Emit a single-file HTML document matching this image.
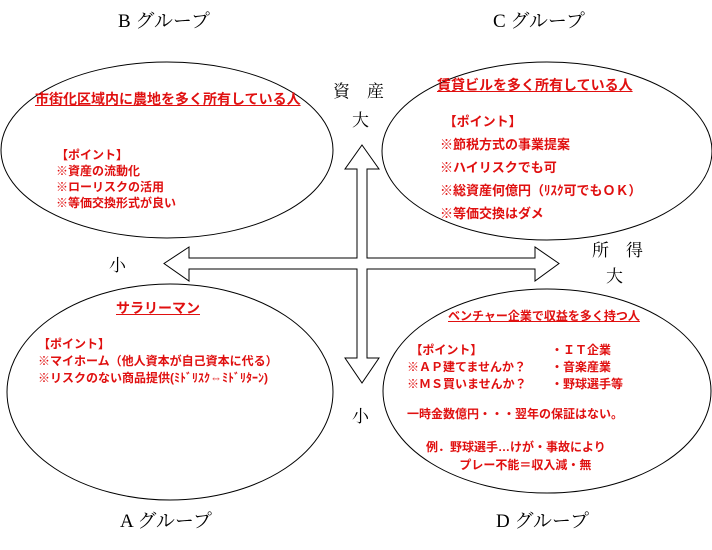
<!DOCTYPE html>
<html><head><meta charset="utf-8"><style>
body{margin:0;width:712px;height:550px;background:#fff;position:relative;overflow:hidden;font-family:"Liberation Serif","Noto Serif CJK SC","Noto Sans CJK JP",serif;}
.t{position:absolute;white-space:nowrap;}
.k{color:#000;font-size:17px;}
.g{font-size:19px;}
.r{color:#e01010;font-weight:bold;font-size:12px;font-family:"Liberation Sans","Noto Sans CJK JP",sans-serif;}
.u{text-decoration:underline;font-size:14px;}
</style></head><body>
<svg width="712" height="550" style="position:absolute;left:0;top:0">
<g fill="none" stroke="#000" stroke-width="1">
<ellipse cx="167" cy="150" rx="166" ry="88"/>
<ellipse cx="547" cy="151" rx="165" ry="89"/>
<ellipse cx="170" cy="392" rx="163" ry="108"/>
<ellipse cx="547" cy="391" rx="164" ry="102"/>
</g>
<polygon fill="#fff" stroke="#000" stroke-width="1" points="362,145 379,169 367,169 367,258 535,258 535,247 559,263.5 535,281 535,269 367,269 367,358 379,358 362,383 345,358 357,358 357,269 189,269 189,281 164,263.5 189,247 189,258 357,258 357,169 345,169"/>
</svg>
<div class="t k g" style="left:118px;top:6px">B グループ</div>
<div class="t k g" style="left:493px;top:6px">C グループ</div>
<div class="t k g" style="left:120px;top:506px">A グループ</div>
<div class="t k g" style="left:496px;top:506px">D グループ</div>
<div class="t k" style="left:333px;top:77px">資　産</div>
<div class="t k" style="left:352px;top:106px">大</div>
<div class="t k" style="left:109px;top:251px">小</div>
<div class="t k" style="left:592px;top:236px">所　得</div>
<div class="t k" style="left:606px;top:262px">大</div>
<div class="t k" style="left:352px;top:402px">小</div>

<div class="t r u" style="left:35px;top:89px">市街化区域内に農地を多く所有している人</div>
<div class="t r" style="left:56px;top:147px;line-height:16px">【ポイント】<br>※資産の流動化<br>※ローリスクの活用<br>※等価交換形式が良い</div>

<div class="t r u" style="left:437px;top:75px">賃貸ビルを多く所有している人</div>
<div class="t r" style="left:440px;top:110px;line-height:23px;font-size:13px">&nbsp;【ポイント】<br>※節税方式の事業提案<br>※ハイリスクでも可<br>※総資産何億円（ﾘｽｸ可でもＯＫ）<br>※等価交換はダメ</div>

<div class="t r u" style="left:116px;top:298px">サラリーマン</div>
<div class="t r" style="left:38px;top:336px;line-height:17px">【ポイント】<br>※マイホーム（他人資本が自己資本に代る）<br>※リスクのない商品提供(ﾐﾄﾞﾘｽｸ⇔ﾐﾄﾞﾘﾀｰﾝ)</div>

<div class="t r u" style="left:448px;top:307px;font-size:12px">ベンチャー企業で収益を多く持つ人</div>
<div class="t r" style="left:407px;top:342px;line-height:17px">&nbsp;【ポイント】<br>※ＡＰ建てませんか？<br>※ＭＳ買いませんか？</div>
<div class="t r" style="left:551px;top:342px;line-height:17px">・ＩＴ企業<br>・音楽産業<br>・野球選手等</div>
<div class="t r" style="left:407px;top:405px">一時金数億円・・・翌年の保証はない。</div>
<div class="t r" style="left:426px;top:438px;line-height:18px">例．野球選手…けが・事故により<br>&nbsp;&nbsp;&nbsp;&nbsp;&nbsp;&nbsp;&nbsp;&nbsp;&nbsp;&nbsp;プレー不能＝収入減・無</div>
</body></html>
